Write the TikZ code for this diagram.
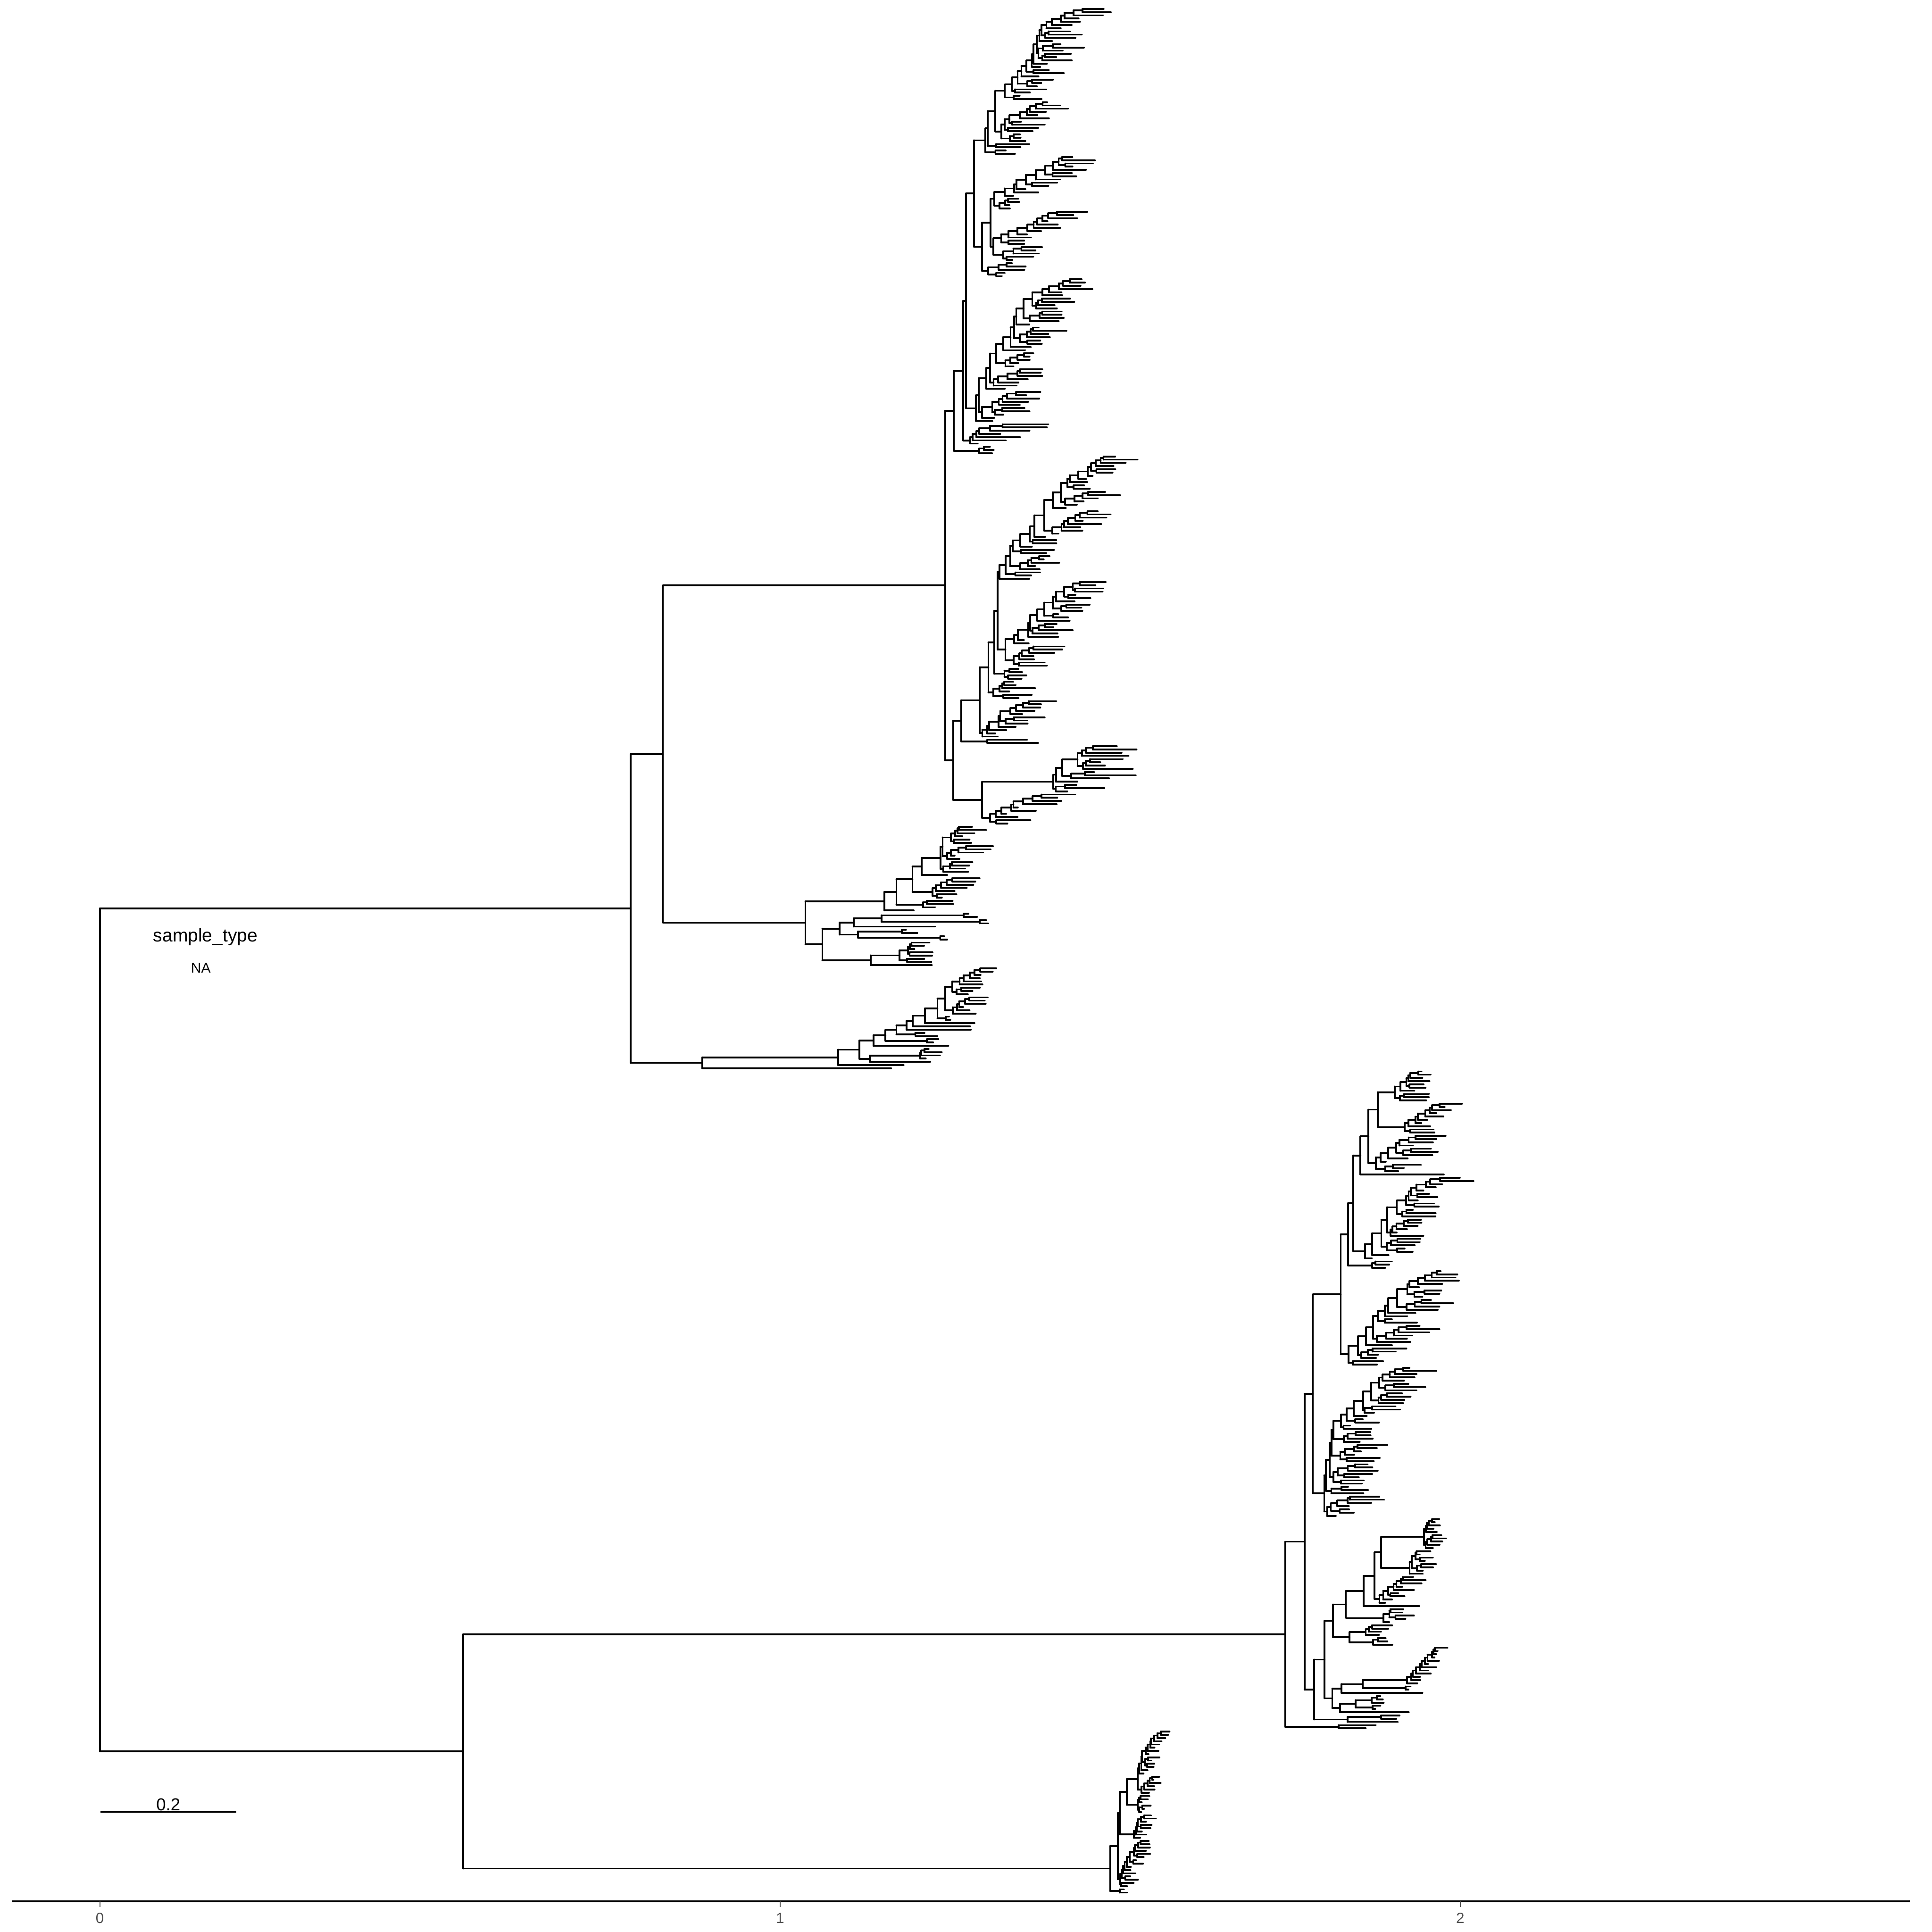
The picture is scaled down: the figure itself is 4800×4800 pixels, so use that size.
\documentclass[tikz,border=0pt]{standalone}
\usepackage{fontspec}
\setmainfont{Liberation Sans}

%% tree drawing helpers (coordinates in picture pixels)
\newcount\tipno
\def\ystart{22}
\def\ystep{8}

\tikzset{
  branch/.style={line width=1.25pt, line cap=round},
  axisline/.style={line width=1.3pt},
  ticklabel/.style={font=\fontsize{10.5}{12}\selectfont, text=black!70, anchor=north, inner sep=0pt},
}

% a tip on the next row: stem from #1 to #2
\newcommand\tip[2]{%
  \pgfmathsetmacro\tyy{\ystart+\ystep*\the\tipno}%
  \global\advance\tipno by 1
  \draw[branch] (#1,\tyy) -- (#2,\tyy);
  \xdef\retY{\tyy}}

% an inner node: stem from #1 to #2, children #3 (upper) and #4 (lower)
\newcommand\inode[4]{%
  \begingroup
  #3\let\yTop\retY
  #4\let\yBot\retY
  \pgfmathsetmacro\yMid{(\yTop+\yBot)/2}%
  \draw[branch] (#2,\yTop) -- (#2,\yBot) (#1,\yMid) -- (#2,\yMid);
  \xdef\retY{\yMid}%
  \endgroup}

% random clade: stem from #1 to #2, #3 tips, length scale #4
\newcommand\clade[4]{%
  \begingroup
  \pgfmathtruncatemacro\nAll{#3}%
  \pgfmathsetmacro\xPar{#1}%
  \pgfmathsetmacro\xNode{#2}%
  \edef\cScale{#4}%
  \ifnum\nAll<2
    \tip{\xPar}{\xNode}%
  \else
    \pgfmathtruncatemacro\nBot{min(int(\nAll/2),1+int(rnd*rnd*\nAll/2))}%
    \pgfmathtruncatemacro\nTop{\nAll-\nBot}%
    \ifnum\nTop>1
      \pgfmathsetmacro\xTop{\xNode+\cScale*(4+22*rnd)}%
    \else
      \pgfmathsetmacro\xTop{\xNode+\cScale*(10+75*rnd)}%
    \fi
    \ifnum\nBot>1
      \pgfmathsetmacro\xBot{\xNode+\cScale*(4+22*rnd)}%
    \else
      \pgfmathsetmacro\xBot{\xNode+\cScale*(10+75*rnd)}%
    \fi
    \inode{\xPar}{\xNode}{\clade{\xNode}{\xTop}{\nTop}{\cScale}}{\clade{\xNode}{\xBot}{\nBot}{\cScale}}%
  \fi
  \endgroup}

\begin{document}
\begin{tikzpicture}[x=0.01cm, y=-0.01cm]
\useasboundingbox (0,0) rectangle (4800,4800);
\pgfmathsetseed{42}

%% ---- upper big clade, top part (139 tips) ----
\def\partTop{%
  \inode{2348}{2370}%
    {\inode{2370}{2393}%
      {\inode{2393}{2400}%
        {\inode{2400}{2420}{\clade{2420}{2448}{46}{1}}{\clade{2420}{2440}{38}{1}}}%
        {\clade{2400}{2425}{45}{1}}}%
      {\clade{2393}{2410}{7}{1.4}}}%
    {\clade{2370}{2433}{3}{1}}}

%% ---- upper big clade, lower part (115 tips) ----
\def\partMid{%
  \inode{2348}{2368}%
    {\inode{2368}{2388}%
      {\clade{2388}{2434}{88}{1}}%
      {\clade{2388}{2453}{2}{1.6}}}%
    {\inode{2368}{2440}%
      {\clade{2440}{2617}{15}{1.5}}%
      {\clade{2440}{2460}{10}{1}}}}

%% ---- middle clade (44 tips) ----
\def\partAb{%
  \inode{1647}{2001}%
    {\inode{2001}{2197}%
      {\inode{2197}{2227}%
        {\inode{2227}{2267}%
          {\inode{2267}{2290}{\clade{2290}{2337}{15}{0.8}}{\tip{2290}{2353}}}%
          {\clade{2267}{2317}{7}{0.8}}}%
        {\clade{2227}{2293}{3}{0.8}}}%
      {\tip{2197}{2270}}}%
    {\inode{2001}{2043}%
      {\inode{2043}{2086}%
        {\inode{2086}{2121}%
          {\inode{2121}{2190}{\clade{2190}{2394}{2}{0.5}}{\clade{2190}{2434}{2}{0.5}}}%
          {\tip{2121}{2323}}}%
        {\inode{2086}{2132}{\clade{2132}{2241}{2}{0.6}}{\clade{2132}{2336}{2}{0.3}}}}%
      {\inode{2043}{2163}{\clade{2163}{2235}{7}{0.8}}{\tip{2163}{2315}}}}}

%% ---- lower clade of the upper half (32 tips) ----
\def\partAtwo{%
  \inode{1567}{1745}%
    {\inode{1745}{2082}%
      {\inode{2082}{2135}%
        {\inode{2135}{2170}%
          {\inode{2170}{2200}%
            {\inode{2200}{2227}%
              {\inode{2227}{2252}%
                {\inode{2252}{2268}%
                  {\inode{2268}{2298}%
                    {\inode{2298}{2329}%
                      {\inode{2329}{2348}{\clade{2348}{2366}{9}{0.7}}{\clade{2348}{2367}{6}{0.7}}}%
                      {\clade{2329}{2350}{2}{0.6}}}%
                    {\tip{2298}{2421}}}%
                  {\tip{2268}{2410}}}%
                {\tip{2252}{2412}}}%
              {\clade{2227}{2274}{2}{0.8}}}%
            {\clade{2200}{2303}{2}{0.5}}}%
          {\tip{2170}{2356}}}%
        {\inode{2135}{2161}{\clade{2161}{2286}{4}{0.6}}{\tip{2161}{2311}}}}%
      {\tip{2082}{2245}}}%
    {\tip{1745}{2214}}}

%% ---- big lower clade (205 tips) ----
\def\partBup{%
  \inode{3241}{3262}%
    {\inode{3262}{3331}%
      {\inode{3331}{3349}%
        {\inode{3349}{3362}%
          {\inode{3362}{3380}%
            {\inode{3380}{3400}%
              {\inode{3400}{3423}{\clade{3423}{3465}{10}{0.8}}{\clade{3423}{3490}{10}{0.8}}}%
              {\clade{3400}{3418}{12}{0.9}}}%
            {\tip{3380}{3587}}}%
          {\clade{3362}{3391}{26}{1}}}%
        {\clade{3349}{3409}{3}{1}}}%
      {\clade{3331}{3350}{30}{1}}}%
    {\clade{3262}{3290}{47}{1}}}

\def\partBlow{%
  \inode{3241}{3265}%
    {\inode{3265}{3291}%
      {\inode{3291}{3312}%
        {\inode{3312}{3344}%
          {\inode{3344}{3388}%
            {\inode{3388}{3415}%
              {\inode{3415}{3431}{\clade{3431}{3538}{10}{0.4}}{\clade{3431}{3502}{8}{0.5}}}%
              {\clade{3415}{3427}{9}{0.7}}}%
            {\tip{3388}{3526}}}%
          {\clade{3344}{3437}{5}{0.6}}}%
        {\inode{3312}{3353}{\clade{3353}{3393}{4}{0.6}}{\clade{3353}{3411}{3}{0.6}}}}%
      {\inode{3291}{3310}%
        {\inode{3310}{3333}%
          {\inode{3333}{3386}{\clade{3386}{3496}{12}{0.45}}{\clade{3386}{3492}{2}{0.2}}}%
          {\tip{3333}{3534}}}%
        {\inode{3310}{3329}%
          {\inode{3329}{3368}{\clade{3368}{3408}{3}{0.5}}{\clade{3368}{3410}{2}{0.4}}}%
          {\tip{3329}{3500}}}}}%
    {\inode{3265}{3348}%
      {\inode{3348}{3431}{\tip{3431}{3477}}{\tip{3431}{3469}}}%
      {\tip{3348}{3473}}}}

\def\partBone{%
  \inode{1151}{3193}%
    {\inode{3193}{3241}{\partBup}{\partBlow}}%
    {\inode{3193}{3326}{\tip{3326}{3418}}{\tip{3326}{3393}}}}

%% ---- small bottom clade (51 tips) ----
\def\partBtwo{%
  \inode{1151}{2758}%
    {\inode{2758}{2777}%
      {\inode{2777}{2782}%
        {\inode{2782}{2800}{\clade{2800}{2827}{20}{0.35}}{\clade{2800}{2827}{6}{0.3}}}%
        {\clade{2782}{2817}{8}{0.35}}}%
      {\clade{2777}{2783}{15}{0.4}}}%
    {\clade{2758}{2782}{2}{0.3}}}

%% ---- whole tree ----
\inode{248}{248}%
  {\inode{248}{1567}%
    {\inode{1567}{1647}{\inode{1647}{2348}{\partTop}{\partMid}}{\partAb}}%
    {\partAtwo}}%
  {\inode{248}{1151}{\partBone}{\partBtwo}}

%% ---- legend ----
\node[anchor=base west, inner sep=0pt, font=\fontsize{13}{15}\selectfont] (legtitle) at (380,2340) {sample\_type};
\node[anchor=base, inner sep=0pt, font=\fontsize{10}{12}\selectfont] (legna) at (499,2417) {NA};

%% ---- scale bar ----
\draw[line width=1.1pt] (250,4502) -- (587,4502);
\node[anchor=base, inner sep=0pt, font=\fontsize{12.2}{14}\selectfont] (scalelab) at (418,4498) {0.2};

%% ---- x axis ----
\draw[axisline] (30,4724) -- (4745,4724);
\foreach \k/\xx in {0/248, 1/1938, 2/3628} {
  \draw[line width=0.6pt, black!70] (\xx,4724) -- (\xx,4738);
  \node[ticklabel] (tick\k) at (\xx,4752) {\k};
}
\end{tikzpicture}
\end{document}
